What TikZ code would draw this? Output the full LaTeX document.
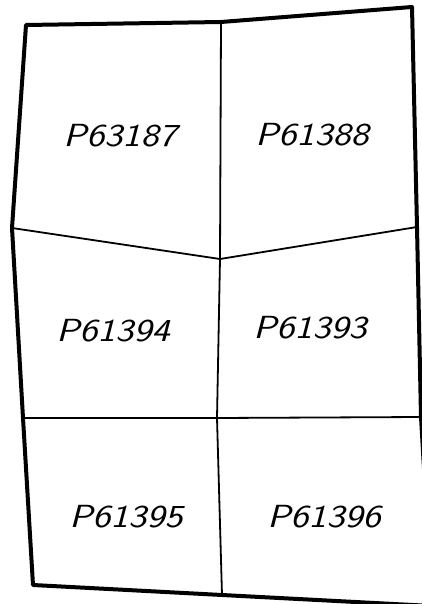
\documentclass[tikz,border=0pt]{standalone}
\usepackage{graphicx}
\newcommand{\rotulohoja}[1]{\scalebox{1.2}[1]{#1}}
\begin{document}
\begin{tikzpicture}[
		x=1pt, y=-1pt,                          % Unidades de la hoja
		borde/.style = {line width=4pt, line join=round},
		division/.style = {line width=1.8pt},
		hoja/.style = {
			inner sep=0pt,
			font=\fontsize{32}{38}\selectfont\sffamily\itshape
		}
		]
		
		\useasboundingbox (0,0) rectangle (422,604);
		\clip (0,0) rectangle (422,604);
		
		% Puntos del contorno
		\coordinate (arribaizq) at (26,25);
		\coordinate (arribamed) at (221,22);
		\coordinate (arribader) at (412,7);
		\coordinate (izq1) at (12,228);
		\coordinate (izq2) at (23,418);
		\coordinate (abajoizq) at (33,585);
		\coordinate (abajomed) at (222,595);
		\coordinate (abajoder) at (432,606);
		\coordinate (der1) at (417,227);
		\coordinate (der2) at (421,417);
		\coordinate (centro1) at (220,259);
		\coordinate (centro2) at (217,418);
		
		% Divisiones interiores
		\draw[division] (arribamed) -- (centro1) -- (centro2) -- (abajomed);
		\draw[division] (izq1) -- (centro1) -- (der1);
		\draw[division] (izq2) -- (centro2) -- (der2);
		
		% Contorno
		\draw[borde] (arribaizq) -- (arribamed) -- (arribader) -- (der1) -- (der2)
		-- (abajoder) -- (abajomed) -- (abajoizq) -- (izq2) -- (izq1) -- cycle;
		
		% Hojas - Fila superior
		\node[hoja] (p63187) at (120,136) {\rotulohoja{P63187}};
		\node[hoja] (p61388) at (312,135) {\rotulohoja{P61388}};
		
		% Hojas - Fila central
		\node[hoja] (p61394) at (113,331) {\rotulohoja{P61394}};
		\node[hoja] (p61393) at (310,328) {\rotulohoja{P61393}};
		
		% Hojas - Fila inferior
		\node[hoja] (p61395) at (126,517) {\rotulohoja{P61395}};
		\node[hoja] (p61396) at (324,517) {\rotulohoja{P61396}};
		
	\end{tikzpicture}
\end{document}
